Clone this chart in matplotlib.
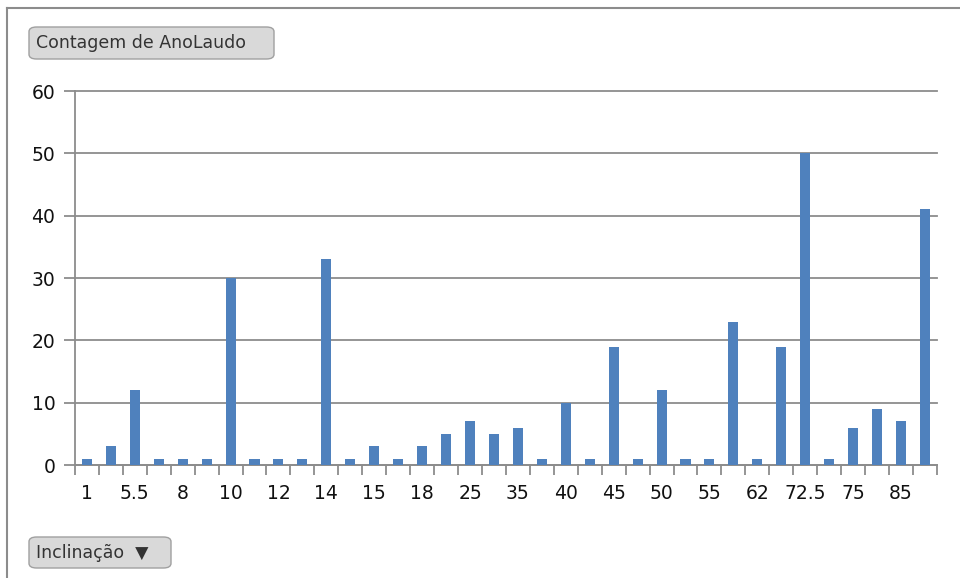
import matplotlib.pyplot as plt
from matplotlib.lines import Line2D
from matplotlib.patches import FancyBboxPatch

# Inclinação categories (every other one gets a visible label)
inclinacao = ["1", "5", "5.5", "7", "8", "9", "10", "11", "12", "13", "14", "14.5",
              "15", "17", "18", "20", "25", "30", "35", "38", "40", "42", "45", "48",
              "50", "53", "55", "60", "62", "70", "72.5", "73", "75", "80", "85", "90"]
contagem = [1, 3, 12, 1, 1, 1, 30, 1, 1, 1, 33, 1,
            3, 1, 3, 5, 7, 5, 6, 1, 10, 1, 19, 1,
            12, 1, 1, 23, 1, 19, 50, 1, 6, 9, 7, 41]
y_ticks = [0, 10, 20, 30, 40, 50, 60]

fig = plt.figure(figsize=(9.6, 5.78), dpi=100)
ax = fig.add_axes([0.078, 0.1955, 0.898, 0.647])

x = list(range(len(inclinacao)))
ax.bar(x, contagem, width=0.42, color="#4f81bd", zorder=3)

ax.set_xlim(-0.5, len(inclinacao) - 0.5)
ax.set_ylim(0, 60)
ax.set_yticks(y_ticks)
ax.yaxis.grid(True, color="#8c8c8c", linewidth=1.3, zorder=1)
for gl in ax.get_ygridlines():
    gl.set_clip_on(False)
ax.tick_params(axis="y", length=8, width=1.3, color="#8c8c8c", labelsize=13.5,
               labelcolor="#111111", pad=6)

# category boundary ticks below the axis
ax.set_xticks([i - 0.5 for i in range(len(inclinacao) + 1)])
ax.set_xticklabels([])
ax.tick_params(axis="x", length=7, width=1.3, color="#8c8c8c")
for i, lab in enumerate(inclinacao):
    if i % 2 == 0:
        ax.text(i, -3.0, lab, ha="center", va="top", fontsize=13.5, color="#111111")

for s in ["top", "right"]:
    ax.spines[s].set_visible(False)
for s in ["left", "bottom"]:
    ax.spines[s].set_color("#8c8c8c")
    ax.spines[s].set_linewidth(1.3)

# outer chart frame (left and top edges)
fig.add_artist(Line2D([0.0075, 0.0075], [0, 0.986], color="#8c8c8c", lw=1.5,
                      transform=fig.transFigure))
fig.add_artist(Line2D([0.0075, 1.0], [0.986, 0.986], color="#8c8c8c", lw=1.5,
                      transform=fig.transFigure))

# field buttons
def button(x0, y0, w, h, label):
    fig.add_artist(FancyBboxPatch((x0 / 960, 1 - (y0 + h) / 578), w / 960, h / 578,
                                  boxstyle="round,pad=0,rounding_size=0.008",
                                  facecolor="#d9d9d9", edgecolor="#a0a0a0", lw=1,
                                  transform=fig.transFigure))
    fig.text((x0 + 7) / 960, 1 - (y0 + h / 2) / 578, label, ha="left", va="center",
             fontsize=12.5, color="#333333")

button(29, 27, 245, 32, "Contagem de AnoLaudo")
button(29, 537, 142, 31, "Inclinação  ▼")

fig.savefig("out.png", dpi=100)
